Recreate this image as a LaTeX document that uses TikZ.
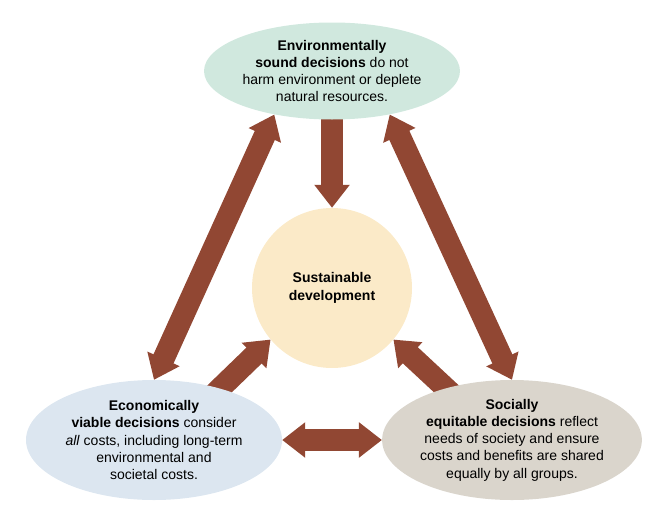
\documentclass[tikz,border=0pt]{standalone}
\usepackage{fontspec}
\setmainfont{Liberation Sans}
\usepackage{tikz}
\usetikzlibrary{shapes,arrows.meta,positioning,backgrounds}

\definecolor{arrowbrown}{RGB}{145,71,51}
\definecolor{envgreen}{RGB}{208,232,222}
\definecolor{econblue}{RGB}{220,230,240}
\definecolor{socgrey}{RGB}{218,213,204}
\definecolor{corecream}{RGB}{251,234,200}

\tikzset{
    goal/.style={ellipse, inner sep=0pt, minimum width=256pt, minimum height=97pt,
        align=center, font=\fontsize{14}{17.3}\selectfont},
    fatarrow/.style={line width=22pt, draw=arrowbrown, -{Triangle[width=34pt,length=23pt]}},
    fatboth/.style={fatarrow, {Triangle[width=34pt,length=23pt]}-{Triangle[width=34pt,length=23pt]}}
}

\begin{document}
\begin{tikzpicture}[x=1pt,y=-1pt]
    \useasboundingbox (0,0) rectangle (666,530);

    \node[goal, fill=envgreen] (env) at (332,71)
        {\textbf{Environmentally}\\\textbf{sound decisions} do not\\harm environment or deplete\\natural resources.};
    \node[goal, fill=econblue, minimum height=120pt] (econ) at (154,440)
        {\textbf{Economically}\\\textbf{viable decisions} consider\\\textit{all} costs, including long-term\\environmental and\\societal costs.};
    \node[goal, fill=socgrey, minimum height=120pt] (soc) at (512,440)
        {\textbf{Socially}\\\textbf{equitable decisions} reflect\\needs of society and ensure\\costs and benefits are shared\\equally by all groups.};
    \node[goal, circle, fill=corecream, minimum size=160pt] (core) at (332,288)
        {\textbf{Sustainable}\\\textbf{development}};

    % arrows sit under the ellipses
    \begin{scope}[on background layer]
        \draw[fatarrow, shorten <=-6pt] (env.south) -- (core.north);
        \draw[fatboth] (env.217) -- (econ.north);
        \draw[fatboth] (env.323) -- (soc.north);
        \draw[fatarrow, shorten <=-10pt] (econ.38) -- (core.220);
        \draw[fatarrow, shorten <=-10pt] (soc.142) -- (core.320);
        \draw[fatboth] (econ.east) -- (soc.west);
    \end{scope}
\end{tikzpicture}
\end{document}
